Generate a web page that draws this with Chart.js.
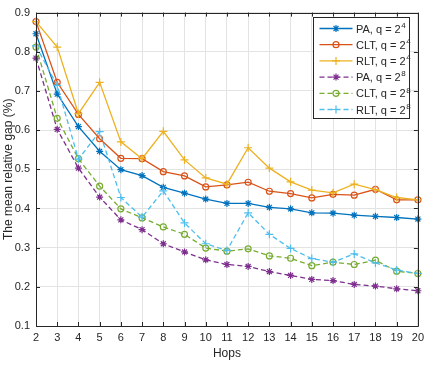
<!DOCTYPE html>
<html>
<head>
<meta charset="utf-8">
<script src="https://cdn.jsdelivr.net/npm/chart.js@4.4.1/dist/chart.umd.min.js"></script>
<style>
  html, body { margin: 0; padding: 0; background: #fff; }
  #wrap { width: 429px; height: 365px; }
</style>
</head>
<body>
<div id="wrap"><canvas id="gapChart"></canvas></div>
<script>
const hops = [2, 3, 4, 5, 6, 7, 8, 9, 10, 11, 12, 13, 14, 15, 16, 17, 18, 19, 20];
const yTicks = [0.1, 0.2, 0.3, 0.4, 0.5, 0.6, 0.7, 0.8, 0.9];

const paQ4  = [0.846, 0.692, 0.609, 0.546, 0.499, 0.484, 0.454, 0.439, 0.424, 0.413, 0.413, 0.403, 0.399, 0.389, 0.388, 0.383, 0.380, 0.377, 0.373];
const cltQ4 = [0.877, 0.722, 0.640, 0.578, 0.528, 0.527, 0.494, 0.483, 0.455, 0.460, 0.467, 0.444, 0.438, 0.427, 0.436, 0.434, 0.449, 0.422, 0.422];
const rltQ4 = [0.877, 0.812, 0.642, 0.722, 0.570, 0.527, 0.597, 0.524, 0.478, 0.462, 0.555, 0.503, 0.468, 0.447, 0.440, 0.462, 0.448, 0.428, 0.422];
const paQ8  = [0.784, 0.602, 0.503, 0.429, 0.371, 0.346, 0.310, 0.289, 0.269, 0.257, 0.252, 0.239, 0.229, 0.219, 0.216, 0.206, 0.202, 0.195, 0.190];
const cltQ8 = [0.812, 0.630, 0.527, 0.457, 0.399, 0.376, 0.353, 0.334, 0.299, 0.291, 0.297, 0.279, 0.273, 0.254, 0.263, 0.257, 0.268, 0.240, 0.234];
const rltQ8 = [0.815, 0.714, 0.526, 0.596, 0.428, 0.378, 0.445, 0.363, 0.310, 0.293, 0.389, 0.334, 0.298, 0.272, 0.263, 0.284, 0.261, 0.243, 0.234];

const seriesNames = ['PA', 'CLT', 'RLT', 'PA', 'CLT', 'RLT'];
const seriesExp = ['4', '4', '4', '8', '8', '8'];

const FONT = '"Liberation Sans", Arial, Helvetica, sans-serif';
const AXIS = '#262626';

function makeSet(i, data, color, style, dashed) {
  const radius = style === 'star' ? 3.5 : (style === 'cross' ? 4 : 3);
  return {
    label: seriesNames[i] + ', q = 2^' + seriesExp[i],
    data: data,
    borderColor: color,
    backgroundColor: color,
    borderWidth: 1.3,
    borderDash: dashed ? [5, 3] : [],
    pointStyle: style,
    pointRadius: radius,
    pointHoverRadius: radius,
    pointBorderColor: color,
    pointBackgroundColor: style === 'circle' ? 'rgba(0,0,0,0)' : color,
    pointBorderWidth: 1.2,
    tension: 0,
    fill: false,
    order: 6 - i
  };
}

// box, inward ticks and legend like the matlab figure
const frame = {
  id: 'frame',
  afterDatasetsDraw(chart) {
    const ctx = chart.ctx;
    const a = chart.chartArea;
    const xs = chart.scales.x, ys = chart.scales.y;
    ctx.save();
    ctx.strokeStyle = AXIS;
    ctx.lineWidth = 1;
    ctx.beginPath();
    ctx.rect(Math.round(a.left) + 0.5, Math.round(a.top) + 0.5, Math.round(a.right - a.left), Math.round(a.bottom - a.top));
    ctx.stroke();
    ctx.beginPath();
    hops.forEach((h, i) => {
      const px = Math.round(xs.getPixelForValue(i)) + 0.5;
      ctx.moveTo(px, a.bottom); ctx.lineTo(px, a.bottom - 4);
      ctx.moveTo(px, a.top); ctx.lineTo(px, a.top + 4);
    });
    yTicks.forEach(v => {
      const py = Math.round(ys.getPixelForValue(v)) + 0.5;
      ctx.moveTo(a.left, py); ctx.lineTo(a.left + 4, py);
      ctx.moveTo(a.right, py); ctx.lineTo(a.right - 4, py);
    });
    ctx.stroke();

    // legend
    const lx = 313.5, ly = 17.5, lw = 96, lh = 101;
    ctx.fillStyle = '#fff';
    ctx.fillRect(lx, ly, lw, lh);
    ctx.strokeStyle = AXIS;
    ctx.strokeRect(lx, ly, lw, lh);
    chart.data.datasets.forEach((ds, i) => {
      const y = ly + 11 + i * 16.2;
      ctx.save();
      ctx.strokeStyle = ds.borderColor;
      ctx.lineWidth = ds.borderWidth;
      ctx.setLineDash(ds.borderDash);
      ctx.beginPath();
      ctx.moveTo(lx + 6, y); ctx.lineTo(lx + 39, y);
      ctx.stroke();
      ctx.setLineDash([]);
      ctx.fillStyle = ds.pointBackgroundColor;
      ctx.lineWidth = ds.pointBorderWidth;
      Chart.helpers.drawPoint(ctx, {
        pointStyle: ds.pointStyle,
        radius: ds.pointRadius,
        borderWidth: ds.pointBorderWidth,
        rotation: 0
      }, lx + 22.5, y);
      ctx.restore();
      ctx.fillStyle = AXIS;
      ctx.textBaseline = 'middle';
      ctx.textAlign = 'left';
      ctx.font = '11px ' + FONT;
      const txt = seriesNames[i] + ', q = 2';
      ctx.fillText(txt, lx + 42.5, y + 1);
      const w = ctx.measureText(txt).width;
      ctx.font = '8px ' + FONT;
      ctx.fillText(seriesExp[i], lx + 42.5 + w + 0.5, y - 3);
    });
    ctx.restore();
  }
};

new Chart(document.getElementById('gapChart'), {
  type: 'line',
  data: {
    labels: hops,
    datasets: [
      makeSet(0, paQ4, '#0072BD', 'star', false),
      makeSet(1, cltQ4, '#D95319', 'circle', false),
      makeSet(2, rltQ4, '#EDB120', 'cross', false),
      makeSet(3, paQ8, '#7E2F8E', 'star', true),
      makeSet(4, cltQ8, '#77AC30', 'circle', true),
      makeSet(5, rltQ8, '#4DBEEE', 'cross', true)
    ]
  },
  options: {
    responsive: true,
    maintainAspectRatio: false,
    animation: false,
    layout: { padding: { top: 6, right: 8, left: 0, bottom: 0 } },
    plugins: {
      legend: { display: false },
      tooltip: { enabled: false }
    },
    scales: {
      x: {
        type: 'category',
        offset: false,
        grid: { color: '#e3e3e3', drawTicks: false, lineWidth: 1 },
        border: { display: false },
        ticks: { color: AXIS, font: { family: FONT, size: 11 }, padding: 5, maxRotation: 0, autoSkip: false },
        title: { display: true, text: 'Hops', color: AXIS, font: { family: FONT, size: 12 }, padding: { top: 2, bottom: 4 } },
        afterFit(scale) { scale.height = 39; }
      },
      y: {
        min: 0.1,
        max: 0.9,
        grid: { color: '#e3e3e3', drawTicks: false, lineWidth: 1 },
        border: { display: false },
        ticks: {
          stepSize: 0.1,
          color: AXIS,
          font: { family: FONT, size: 11 },
          padding: 6,
          callback: v => Number(v).toFixed(1)
        },
        title: { display: true, text: 'The mean relative gap (%)', color: AXIS, font: { family: FONT, size: 12 }, padding: { top: 1, bottom: 0 } },
        afterFit(scale) { scale.width = 36; }
      }
    }
  },
  plugins: [frame]
});
</script>
</body>
</html>
